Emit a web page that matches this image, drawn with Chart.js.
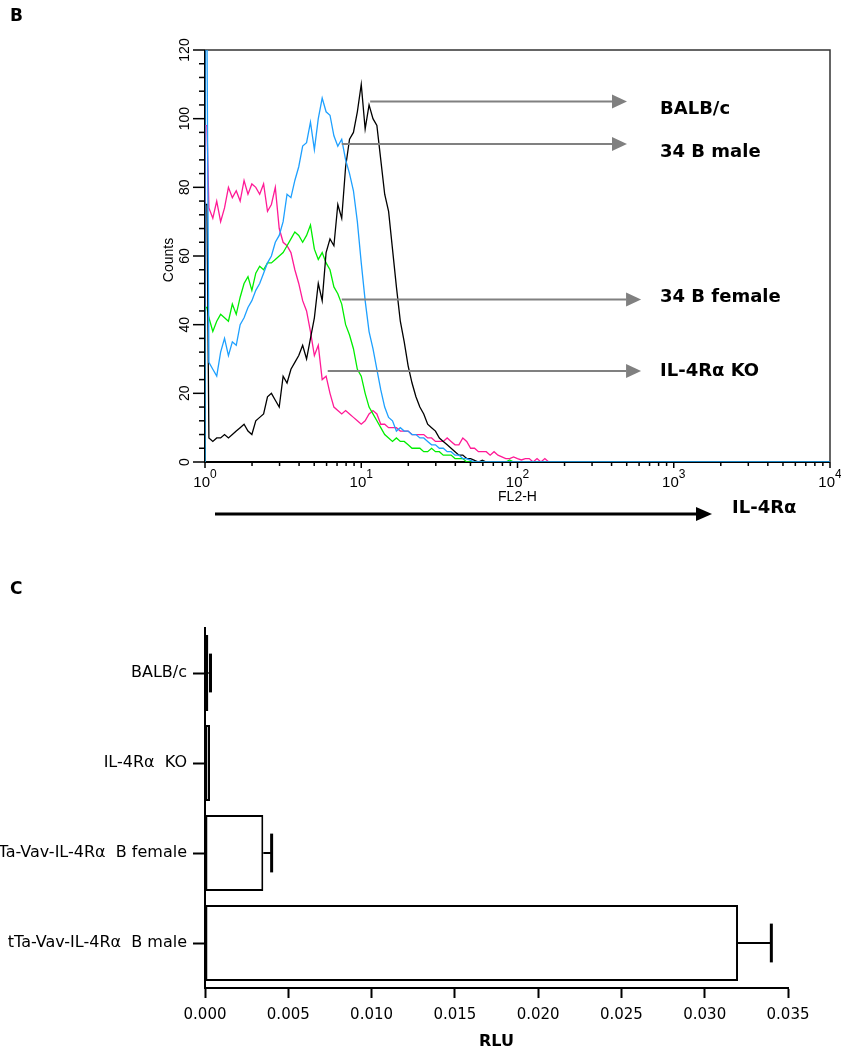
<!DOCTYPE html>
<html>
<head>
<meta charset="utf-8">
<script src="https://cdn.jsdelivr.net/npm/chart.js@4.4.0/dist/chart.umd.min.js"></script>
<style>
  html, body { margin: 0; padding: 0; background: #fff; }
  #top { position: absolute; left: 0; top: 0; width: 841px; height: 545px; }
  #bottom { position: absolute; left: 0; top: 545px; width: 841px; height: 512px; }
</style>
</head>
<body>
<div id="top"><canvas id="facs"></canvas></div>
<div id="bottom"><canvas id="rlu"></canvas></div>
<script>
// FL2-H histograms, 40 channels per decade starting at 10^0
var chPerDecade = 40;

// 34 B male
var blueCounts = [
  125, 29, 27, 25, 32, 36, 31, 35, 34, 40,
  42, 45, 47, 50, 52, 55, 58, 60, 64, 66,
  70, 78, 77, 82, 86, 92, 93, 99, 91, 100,
  106, 102, 101, 95, 92, 94, 88, 84, 79, 70,
  58, 47, 38, 33, 27, 21, 16, 13, 12, 9,
  10, 9, 9, 8, 8, 7, 7, 6, 5, 5,
  4, 4, 3, 3, 2, 2, 1, 1, 0.5, 0,
  0, 0, 0, 0, 0, 0, 0, 0, 0, 0,
  0, 0, 0, 0, 0, 0, 0, 0, 0
];
// BALB/c
var blackCounts = [
  75, 7, 6, 7, 7, 8, 7, 8, 9, 10,
  11, 9, 8, 12, 13, 14, 19, 20, 18, 16,
  25, 23, 27, 29, 31, 34, 30, 36, 42, 52,
  47, 61, 65, 63, 75, 71, 86, 94, 96, 102,
  110, 97, 104, 100, 98, 88, 78, 73, 62, 51,
  41, 35, 28, 23, 19, 16, 14, 11, 10, 9,
  7, 6, 5, 4, 3, 2, 2, 1, 1, 0.5,
  0, 0.5, 0, 0, 0, 0, 0, 0, 0, 0,
  0, 0, 0, 0, 0, 0, 0, 0, 0
];
// 34 B female
var greenCounts = [
  45, 42, 38, 41, 43, 42, 41, 46, 43, 48,
  52, 54, 50, 55, 57, 56, 58, 58, 59, 60,
  61, 63, 65, 67, 66, 64, 66, 69, 62, 59,
  61, 58, 56, 51, 49, 46, 40, 37, 33, 27,
  25, 20, 16, 14, 12, 10, 8, 7, 6, 7,
  6, 6, 5, 4, 4, 4, 3, 3, 4, 3,
  3, 2, 2, 2, 1, 1, 1, 0, 0, 0,
  0, 0, 0, 0, 0, 0, 0, 0, 0.6, 0,
  0, 0, 0, 0, 0, 0, 0, 0, 0
];
// IL-4Ra KO
var pinkCounts = [
  98, 74, 71, 76, 70, 74, 80, 77, 79, 76,
  82, 78, 81, 80, 78, 81, 73, 75, 80, 68,
  64, 63, 61, 56, 52, 47, 44, 38, 31, 34,
  24, 25, 20, 16, 15, 14, 15, 14, 13, 12,
  11, 12, 14, 15, 14, 11, 11, 10, 10, 10,
  9, 9, 9, 8, 8, 8, 8, 7, 7, 6,
  6, 6, 7, 6, 5, 5, 7, 6, 4, 4,
  3, 3, 3, 2, 3, 2, 1.5, 1, 1, 1.5,
  1, 0.6, 1, 1, 0, 1, 0, 1, 0
];

// RLU bar chart
var groups = ['BALB/c', 'IL-4R\u03b1  KO', 'tTa-Vav-IL-4R\u03b1  B female', 'tTa-Vav-IL-4R\u03b1  B male'];
var rlu = [0.0002, 0.0003, 0.0035, 0.032];
var rluErr = [0.00013, 0, 0.0005, 0.002];

// channel 0 is drawn as a bin (vertical edge at 10^0), the rest as a polyline
function histPoints(counts) {
  var pts = [{x: 1, y: 0}, {x: 1, y: counts[0]}, {x: Math.pow(10, 0.5 / chPerDecade), y: counts[0]}];
  counts.forEach(function (c, i) {
    if (i > 0) pts.push({x: Math.pow(10, i / chPerDecade), y: c});
  });
  pts.push({x: 10000, y: 0});
  return pts;
}

var SANS = '"Liberation Sans", Arial, sans-serif';
var LABEL = '"DejaVu Sans", Verdana, sans-serif';

// arrows pointing from each curve to its name
var arrows = [
  {text: 'BALB/c', y: 105, from: 11.4, to: 502, dy: 8},
  {text: '34 B male', y: 92.6, from: 7.5, to: 502, dy: 8},
  {text: '34 B female', y: 47.3, from: 7.5, to: 618, dy: -2},
  {text: 'IL-4R\u03b1 KO', y: 26.5, from: 6.1, to: 618, dy: 0}
];

function arrow(ctx, x0, x1, y, color, width, headLen, headHalf) {
  ctx.strokeStyle = color;
  ctx.fillStyle = color;
  ctx.lineWidth = width;
  ctx.beginPath();
  ctx.moveTo(x0, y);
  ctx.lineTo(x1 - headLen, y);
  ctx.stroke();
  ctx.beginPath();
  ctx.moveTo(x1, y);
  ctx.lineTo(x1 - headLen, y - headHalf);
  ctx.lineTo(x1 - headLen, y + headHalf);
  ctx.closePath();
  ctx.fill();
}

var facsAxes = {
  id: 'facsAxes',
  beforeDatasetsDraw: function (chart) {
    var ctx = chart.ctx, a = chart.chartArea;
    var xs = chart.scales.x, ys = chart.scales.y;
    ctx.save();
    // frame
    ctx.strokeStyle = '#333';
    ctx.lineWidth = 1.5;
    ctx.beginPath();
    ctx.moveTo(a.left, a.top);
    ctx.lineTo(a.right, a.top);
    ctx.lineTo(a.right, a.bottom);
    ctx.stroke();
    ctx.strokeStyle = '#000';
    ctx.lineWidth = 2;
    ctx.beginPath();
    ctx.moveTo(a.left, a.top);
    ctx.lineTo(a.left, a.bottom);
    ctx.lineTo(a.right, a.bottom);
    ctx.stroke();

    // y ticks every 4, labels every 20
    ctx.lineWidth = 1.5;
    ctx.fillStyle = '#000';
    ctx.font = '14px ' + SANS;
    ctx.textAlign = 'center';
    ctx.textBaseline = 'middle';
    for (var v = 0; v <= 120; v += 4) {
      var py = ys.getPixelForValue(v);
      var len = v % 20 === 0 ? 12 : 6;
      ctx.beginPath();
      ctx.moveTo(a.left - len, py);
      ctx.lineTo(a.left, py);
      ctx.stroke();
      if (v % 20 === 0) {
        ctx.save();
        ctx.translate(a.left - 20, py);
        ctx.rotate(-Math.PI / 2);
        ctx.fillText(String(v), 0, 0);
        ctx.restore();
      }
    }
    ctx.save();
    ctx.translate(a.left - 36, 260);
    ctx.rotate(-Math.PI / 2);
    ctx.font = '14px ' + SANS;
    ctx.fillText('Counts', 0, 0);
    ctx.restore();

    // x ticks: decades and 2..9 in between
    for (var d = 0; d <= 4; d++) {
      for (var m = 1; m <= 9; m++) {
        if (d === 4 && m > 1) break;
        var px = xs.getPixelForValue(m * Math.pow(10, d));
        var tl = m === 1 ? 6 : 4;
        ctx.beginPath();
        ctx.moveTo(px, a.bottom);
        ctx.lineTo(px, a.bottom + tl);
        ctx.stroke();
      }
      var cx = xs.getPixelForValue(Math.pow(10, d));
      ctx.font = '15px ' + SANS;
      var w = ctx.measureText('10').width;
      ctx.font = '12px ' + SANS;
      var ws = ctx.measureText(String(d)).width;
      var sx = cx - (w + ws) / 2;
      ctx.textAlign = 'left';
      ctx.textBaseline = 'alphabetic';
      ctx.font = '15px ' + SANS;
      ctx.fillText('10', sx, a.bottom + 25);
      ctx.font = '12px ' + SANS;
      ctx.fillText(String(d), sx + w, a.bottom + 16);
    }
    ctx.textAlign = 'center';
    ctx.textBaseline = 'middle';
    ctx.font = '14px ' + SANS;
    ctx.fillText('FL2-H', xs.getPixelForValue(100), a.bottom + 35);
    ctx.restore();
  },
  afterDatasetsDraw: function (chart) {
    var ctx = chart.ctx, a = chart.chartArea;
    var xs = chart.scales.x, ys = chart.scales.y;
    ctx.save();
    ctx.font = 'bold 18px ' + LABEL;
    ctx.textBaseline = 'middle';
    ctx.textAlign = 'left';
    arrows.forEach(function (ar) {
      var y = ys.getPixelForValue(ar.y);
      arrow(ctx, xs.getPixelForValue(ar.from), xs.getPixelForValue(ar.to), y, '#808080', 2, 15, 7);
      ctx.fillStyle = '#000';
      ctx.fillText(ar.text, xs.getPixelForValue(817), y + ar.dy);
    });
    // IL-4Ra intensity arrow under the axis
    arrow(ctx, a.left + 10, 712, 514, '#000', 3, 16, 7);
    ctx.fillStyle = '#000';
    ctx.fillText('IL-4R\u03b1', 732, 508);
    // panel letter
    ctx.font = 'bold 17px ' + LABEL;
    ctx.fillText('B', 10, 17);
    ctx.restore();
  }
};

new Chart(document.getElementById('facs'), {
  type: 'line',
  data: {
    datasets: [
      {label: '34 B male', data: histPoints(blueCounts), borderColor: '#1ea0ff'},
      {label: 'BALB/c', data: histPoints(blackCounts), borderColor: '#000000'},
      {label: '34 B female', data: histPoints(greenCounts), borderColor: '#00ee00'},
      {label: 'IL-4R\u03b1 KO', data: histPoints(pinkCounts), borderColor: '#ff1a96'}
    ]
  },
  options: {
    responsive: true,
    maintainAspectRatio: false,
    animation: false,
    layout: {padding: {left: 205, top: 50, right: 11, bottom: 83}},
    datasets: {line: {stepped: false, borderWidth: 1.3, pointRadius: 0, tension: 0, fill: false}},
    plugins: {legend: {display: false}, tooltip: {enabled: false}},
    scales: {
      x: {type: 'logarithmic', min: 1, max: 10000, display: false},
      y: {min: 0, max: 120, display: false}
    }
  },
  plugins: [facsAxes]
});

var errorBars = {
  id: 'errorBars',
  afterDatasetsDraw: function (chart) {
    var ctx = chart.ctx, xs = chart.scales.x;
    var meta = chart.getDatasetMeta(0);
    ctx.save();
    ctx.strokeStyle = '#000';
    meta.data.forEach(function (bar, i) {
      if (!rluErr[i]) return;
      var x0 = xs.getPixelForValue(rlu[i]);
      var x1 = xs.getPixelForValue(rlu[i] + rluErr[i]);
      var half = bar.height * 0.255;
      ctx.lineWidth = 2;
      ctx.beginPath();
      ctx.moveTo(x0, bar.y);
      ctx.lineTo(x1, bar.y);
      ctx.stroke();
      ctx.lineWidth = 3;
      ctx.beginPath();
      ctx.moveTo(x1, bar.y - half);
      ctx.lineTo(x1, bar.y + half);
      ctx.stroke();
    });
    ctx.fillStyle = '#000';
    ctx.font = 'bold 17px ' + LABEL;
    ctx.textBaseline = 'middle';
    ctx.fillText('C', 10, 45);
    ctx.restore();
  }
};

new Chart(document.getElementById('rlu'), {
  type: 'bar',
  data: {
    labels: groups,
    datasets: [{
      data: rlu,
      backgroundColor: '#ffffff',
      borderColor: '#000000',
      borderWidth: 2,
      borderSkipped: false,
      barPercentage: 0.845,
      categoryPercentage: 1
    }]
  },
  options: {
    indexAxis: 'y',
    responsive: true,
    maintainAspectRatio: false,
    animation: false,
    layout: {padding: {left: 0, top: 83, right: 53, bottom: 0}},
    plugins: {legend: {display: false}, tooltip: {enabled: false}},
    scales: {
      x: {
        min: 0,
        max: 0.035,
        ticks: {
          stepSize: 0.005,
          color: '#000',
          padding: 8,
          font: {family: LABEL, size: 15},
          callback: function (v) { return v.toFixed(3); }
        },
        grid: {drawOnChartArea: false, tickLength: 10, tickWidth: 2, tickColor: '#000'},
        border: {color: '#000', width: 2},
        title: {
          display: true,
          text: 'RLU',
          color: '#000',
          font: {family: LABEL, size: 16, weight: 'bold'},
          padding: {top: 4, bottom: 6}
        },
        afterFit: function (s) { s.height = 69; }
      },
      y: {
        ticks: {color: '#000', padding: 6, font: {family: LABEL, size: 16}},
        grid: {offset: false, drawOnChartArea: false, tickLength: 12, tickWidth: 2, tickColor: '#000'},
        border: {color: '#000', width: 2},
        afterFit: function (s) { s.width = 205; }
      }
    }
  },
  plugins: [errorBars]
});
</script>
</body>
</html>
